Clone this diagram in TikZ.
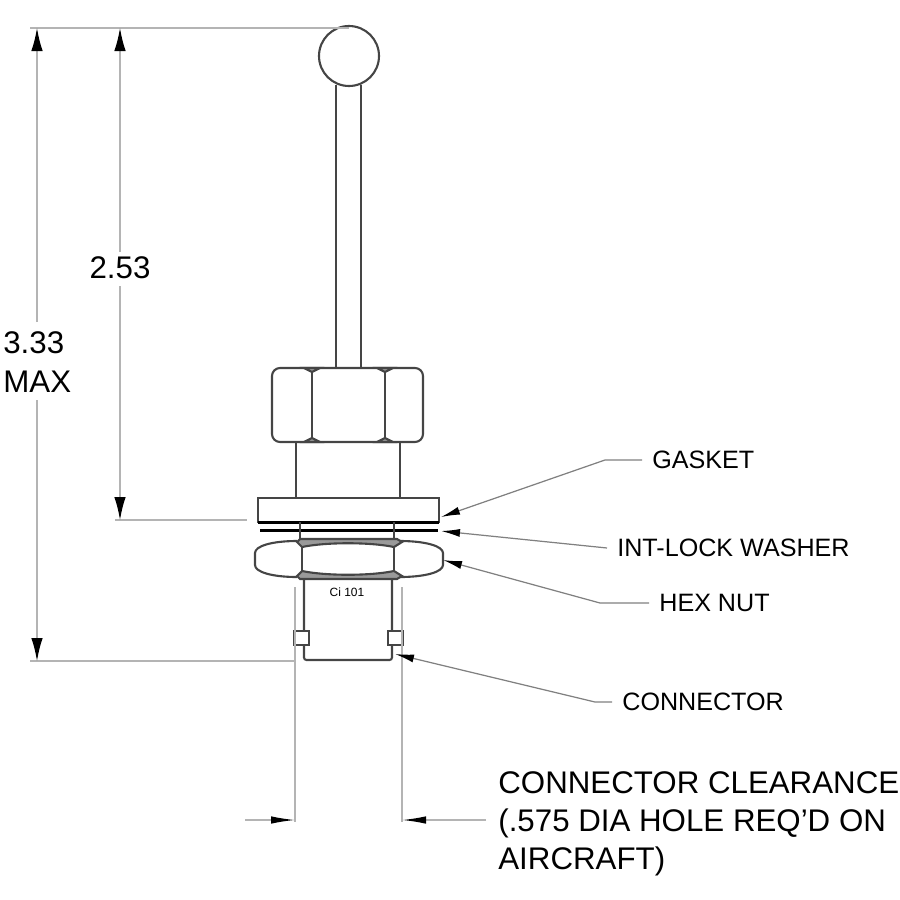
\documentclass[tikz,border=0pt]{standalone}
\usepackage{fontspec}
\setmainfont{Liberation Sans}
\usetikzlibrary{arrows.meta}
\definecolor{partgray}{HTML}{454545}
\definecolor{dimgray}{HTML}{B4B4B4}
\definecolor{bandgray}{HTML}{9A9A9A}
\tikzset{
  part/.style={draw=partgray,line width=1.2pt},
  extline/.style={draw=dimgray,line width=0.8pt},
  dimarrow/.style={extline,-{Latex[length=4.6mm,width=2.3mm,color=black]}},
  sidearrow/.style={extline,-{Latex[length=4.8mm,width=1.5mm,color=black]}},
  leader/.style={draw=gray,line width=0.7pt,-{Latex[length=3.8mm,width=1.6mm,color=black]}},
  biglabel/.style={inner sep=0pt,font=\fontsize{17.8}{21.6}\selectfont},
  smalllabel/.style={inner sep=2mm,anchor=west,font=\fontsize{14.3}{17}\selectfont},
}
\begin{document}
\begin{tikzpicture}[x=0.2mm,y=-0.2mm]
    \useasboundingbox (0,0) rectangle (900,900);
    % handle
    \node [part,circle,inner sep=0pt,minimum size=12mm] (ball) at (349,56) {};
    \draw [part] (336,85) -- (336,368) (361,85) -- (361,368);
    % upper nut and neck
    \draw [part,rounded corners=1.6mm] (272,368) rectangle (423,442);
    \draw [part] (312,371) -- (312,439) (385,371) -- (385,439);
    \draw [part,fill=bandgray] (304,368) -- (320,368) -- (312,372) -- cycle;
    \draw [part,fill=bandgray] (377,368) -- (393,368) -- (385,372) -- cycle;
    \draw [part,fill=bandgray] (304,442) -- (320,442) -- (312,438) -- cycle;
    \draw [part,fill=bandgray] (377,442) -- (393,442) -- (385,438) -- cycle;
    \draw [part] (296,442) -- (296,498) (400,442) -- (400,498);
    \draw [part] (258,498) rectangle (439,522);
    \draw [draw=black,line width=1.7pt] (258,522) -- (439,522) (260,530) -- (438,530);
    \draw [part] (300,522) -- (300,539) (394,522) -- (394,539);
    % hex nut
    \draw [part] (297,541) .. controls (272,541) and (255,546) .. (255,553) -- (255,565)
      .. controls (255,572) and (272,577) .. (297,577);
    \draw [part] (400,541) .. controls (425,541) and (443,546) .. (443,553) -- (443,565)
      .. controls (443,572) and (425,577) .. (400,577);
    \draw [part,fill=bandgray] (297,542) -- (300,539) -- (397,539) -- (402,542)
      -- (394,547) .. controls (370,542) and (326,542) .. (302,547) -- cycle;
    \draw [part,fill=bandgray] (297,576) -- (300,579) -- (397,579) -- (402,576)
      -- (394,571) .. controls (370,576) and (326,576) .. (302,571) -- cycle;
    \draw [part] (302,547) -- (302,571) (394,547) -- (394,571);
    % connector
    \draw [part,rounded corners=0.5mm] (304,579) -- (304,660) -- (392,660) -- (392,579);
    \draw [part,fill=white] (294,631) rectangle (309,645);
    \draw [part,fill=white] (388,631) rectangle (403,645);
    \node [inner sep=0pt,font=\fontsize{6.8}{8}\selectfont] (cilabel) at (347,592) {Ci 101};
    % dimensions
    \coordinate (top) at (30,28);
    \coordinate (ballTop) at (349,28);
    \draw [extline] (top) -- (ballTop);
    \draw [extline] (30,661) -- (295,661);
    \draw [extline] (115,520) -- (247,520);
    \draw [extline] (295,587) -- (295,822) (402,587) -- (402,822);
    \node [biglabel,anchor=west,align=left] (maxlabel) at (3,362) {3.33\\[1pt]MAX};
    \node [biglabel] (midlabel) at (120,268) {2.53};
    \draw [dimarrow] (37,322) -- (37,28);
    \draw [dimarrow] (37,400) -- (37,661);
    \draw [dimarrow] (120,252) -- (120,28);
    \draw [dimarrow] (120,286) -- (120,520);
    \coordinate (leftEnd) at (245,820);
    \coordinate (rightEnd) at (486,820);
    \draw [sidearrow] (leftEnd) -- (295,820);
    \draw [sidearrow] (rightEnd) -- (402,820);
    % labels
    \node [smalllabel] (gasket) at (642,460) {GASKET};
    \node [smalllabel] (washer) at (607,548) {INT-LOCK WASHER};
    \node [smalllabel] (hexnut) at (649,603) {HEX NUT};
    \node [smalllabel] (conn) at (612,702) {CONNECTOR};
    \node [biglabel,anchor=north west,align=left] (clearance) at (498,771)
      {CONNECTOR CLEARANCE\\(.575 DIA HOLE REQ'D ON\\AIRCRAFT)};
    \draw [leader] (gasket.west) -- (605,460) -- (441,517);
    \draw [leader] (washer.west) -- (441,531);
    \draw [leader] (hexnut.west) -- (600,603) -- (443,560);
    \draw [leader] (conn.west) -- (595,702) -- (395,654);
\end{tikzpicture}
\end{document}
